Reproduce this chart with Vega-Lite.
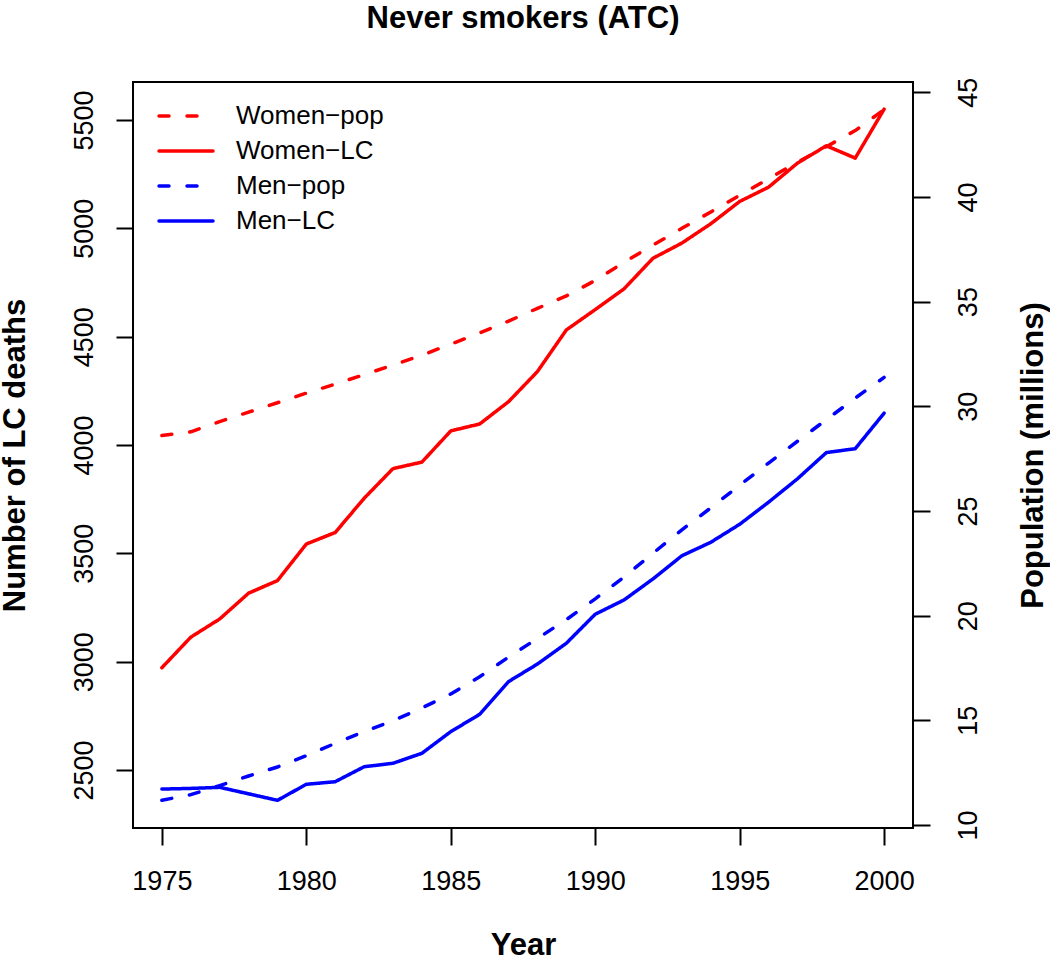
{
  "$schema": "https://vega.github.io/schema/vega-lite/v6.json",
  "width": 780,
  "height": 746,
  "autosize": {"type": "none"},
  "padding": {"left": 133, "top": 82, "right": 137, "bottom": 131},
  "background": "white",
  "config": {
    "font": "Liberation Sans",
    "view": {"stroke": "black", "strokeWidth": 2},
    "axis": {
      "grid": false, "domain": false,
      "tickColor": "black", "tickWidth": 2, "tickSize": 17,
      "labelFont": "Liberation Sans", "labelFontSize": 27, "labelColor": "black",
      "labelFlush": false, "labelOverlap": false,
      "titleFont": "Liberation Sans", "titleFontSize": 31, "titleFontWeight": "bold", "titleColor": "black"
    },
    "legend": {
      "orient": "none", "legendX": 24, "legendY": 17,
      "symbolType": "stroke", "symbolSize": 2916, "symbolStrokeWidth": 3.5,
      "labelFont": "Liberation Sans", "labelFontSize": 26, "labelColor": "black",
      "labelOffset": 21, "rowPadding": 0, "clipHeight": 34.2, "padding": 0
    }
  },
  "title": {
    "text": "Never smokers (ATC)",
    "font": "Liberation Sans", "fontSize": 31, "fontWeight": "bold", "color": "black",
    "anchor": "middle", "offset": 42
  },
  "data": {
    "values": [
      {"year": 1975, "series": "Women−LC", "measure": "deaths", "value": 2972},
      {"year": 1976, "series": "Women−LC", "measure": "deaths", "value": 3113},
      {"year": 1977, "series": "Women−LC", "measure": "deaths", "value": 3197},
      {"year": 1978, "series": "Women−LC", "measure": "deaths", "value": 3316},
      {"year": 1979, "series": "Women−LC", "measure": "deaths", "value": 3374},
      {"year": 1980, "series": "Women−LC", "measure": "deaths", "value": 3543},
      {"year": 1981, "series": "Women−LC", "measure": "deaths", "value": 3596},
      {"year": 1982, "series": "Women−LC", "measure": "deaths", "value": 3754},
      {"year": 1983, "series": "Women−LC", "measure": "deaths", "value": 3891},
      {"year": 1984, "series": "Women−LC", "measure": "deaths", "value": 3921},
      {"year": 1985, "series": "Women−LC", "measure": "deaths", "value": 4065},
      {"year": 1986, "series": "Women−LC", "measure": "deaths", "value": 4097},
      {"year": 1987, "series": "Women−LC", "measure": "deaths", "value": 4200},
      {"year": 1988, "series": "Women−LC", "measure": "deaths", "value": 4339},
      {"year": 1989, "series": "Women−LC", "measure": "deaths", "value": 4531},
      {"year": 1990, "series": "Women−LC", "measure": "deaths", "value": 4625},
      {"year": 1991, "series": "Women−LC", "measure": "deaths", "value": 4721},
      {"year": 1992, "series": "Women−LC", "measure": "deaths", "value": 4862},
      {"year": 1993, "series": "Women−LC", "measure": "deaths", "value": 4932},
      {"year": 1994, "series": "Women−LC", "measure": "deaths", "value": 5021},
      {"year": 1995, "series": "Women−LC", "measure": "deaths", "value": 5124},
      {"year": 1996, "series": "Women−LC", "measure": "deaths", "value": 5190},
      {"year": 1997, "series": "Women−LC", "measure": "deaths", "value": 5301},
      {"year": 1998, "series": "Women−LC", "measure": "deaths", "value": 5381},
      {"year": 1999, "series": "Women−LC", "measure": "deaths", "value": 5324},
      {"year": 2000, "series": "Women−LC", "measure": "deaths", "value": 5550},

      {"year": 1975, "series": "Men−LC", "measure": "deaths", "value": 2412},
      {"year": 1976, "series": "Men−LC", "measure": "deaths", "value": 2415},
      {"year": 1977, "series": "Men−LC", "measure": "deaths", "value": 2420},
      {"year": 1978, "series": "Men−LC", "measure": "deaths", "value": 2390},
      {"year": 1979, "series": "Men−LC", "measure": "deaths", "value": 2360},
      {"year": 1980, "series": "Men−LC", "measure": "deaths", "value": 2434},
      {"year": 1981, "series": "Men−LC", "measure": "deaths", "value": 2446},
      {"year": 1982, "series": "Men−LC", "measure": "deaths", "value": 2515},
      {"year": 1983, "series": "Men−LC", "measure": "deaths", "value": 2531},
      {"year": 1984, "series": "Men−LC", "measure": "deaths", "value": 2577},
      {"year": 1985, "series": "Men−LC", "measure": "deaths", "value": 2677},
      {"year": 1986, "series": "Men−LC", "measure": "deaths", "value": 2757},
      {"year": 1987, "series": "Men−LC", "measure": "deaths", "value": 2908},
      {"year": 1988, "series": "Men−LC", "measure": "deaths", "value": 2989},
      {"year": 1989, "series": "Men−LC", "measure": "deaths", "value": 3085},
      {"year": 1990, "series": "Men−LC", "measure": "deaths", "value": 3219},
      {"year": 1991, "series": "Men−LC", "measure": "deaths", "value": 3285},
      {"year": 1992, "series": "Men−LC", "measure": "deaths", "value": 3382},
      {"year": 1993, "series": "Men−LC", "measure": "deaths", "value": 3489},
      {"year": 1994, "series": "Men−LC", "measure": "deaths", "value": 3551},
      {"year": 1995, "series": "Men−LC", "measure": "deaths", "value": 3634},
      {"year": 1996, "series": "Men−LC", "measure": "deaths", "value": 3736},
      {"year": 1997, "series": "Men−LC", "measure": "deaths", "value": 3844},
      {"year": 1998, "series": "Men−LC", "measure": "deaths", "value": 3965},
      {"year": 1999, "series": "Men−LC", "measure": "deaths", "value": 3983},
      {"year": 2000, "series": "Men−LC", "measure": "deaths", "value": 4147},

      {"year": 1975, "series": "Women−pop", "measure": "pop", "value": 28.60},
      {"year": 1976, "series": "Women−pop", "measure": "pop", "value": 28.78},
      {"year": 1977, "series": "Women−pop", "measure": "pop", "value": 29.27},
      {"year": 1978, "series": "Women−pop", "measure": "pop", "value": 29.72},
      {"year": 1979, "series": "Women−pop", "measure": "pop", "value": 30.17},
      {"year": 1980, "series": "Women−pop", "measure": "pop", "value": 30.63},
      {"year": 1981, "series": "Women−pop", "measure": "pop", "value": 31.06},
      {"year": 1982, "series": "Women−pop", "measure": "pop", "value": 31.51},
      {"year": 1983, "series": "Women−pop", "measure": "pop", "value": 31.97},
      {"year": 1984, "series": "Women−pop", "measure": "pop", "value": 32.44},
      {"year": 1985, "series": "Women−pop", "measure": "pop", "value": 32.97},
      {"year": 1986, "series": "Women−pop", "measure": "pop", "value": 33.50},
      {"year": 1987, "series": "Women−pop", "measure": "pop", "value": 34.07},
      {"year": 1988, "series": "Women−pop", "measure": "pop", "value": 34.68},
      {"year": 1989, "series": "Women−pop", "measure": "pop", "value": 35.27},
      {"year": 1990, "series": "Women−pop", "measure": "pop", "value": 36.01},
      {"year": 1991, "series": "Women−pop", "measure": "pop", "value": 36.88},
      {"year": 1992, "series": "Women−pop", "measure": "pop", "value": 37.70},
      {"year": 1993, "series": "Women−pop", "measure": "pop", "value": 38.50},
      {"year": 1994, "series": "Women−pop", "measure": "pop", "value": 39.28},
      {"year": 1995, "series": "Women−pop", "measure": "pop", "value": 40.08},
      {"year": 1996, "series": "Women−pop", "measure": "pop", "value": 40.87},
      {"year": 1997, "series": "Women−pop", "measure": "pop", "value": 41.66},
      {"year": 1998, "series": "Women−pop", "measure": "pop", "value": 42.40},
      {"year": 1999, "series": "Women−pop", "measure": "pop", "value": 43.17},
      {"year": 2000, "series": "Women−pop", "measure": "pop", "value": 44.17},

      {"year": 1975, "series": "Men−pop", "measure": "pop", "value": 11.18},
      {"year": 1976, "series": "Men−pop", "measure": "pop", "value": 11.45},
      {"year": 1977, "series": "Men−pop", "measure": "pop", "value": 11.88},
      {"year": 1978, "series": "Men−pop", "measure": "pop", "value": 12.34},
      {"year": 1979, "series": "Men−pop", "measure": "pop", "value": 12.77},
      {"year": 1980, "series": "Men−pop", "measure": "pop", "value": 13.31},
      {"year": 1981, "series": "Men−pop", "measure": "pop", "value": 13.90},
      {"year": 1982, "series": "Men−pop", "measure": "pop", "value": 14.46},
      {"year": 1983, "series": "Men−pop", "measure": "pop", "value": 14.98},
      {"year": 1984, "series": "Men−pop", "measure": "pop", "value": 15.59},
      {"year": 1985, "series": "Men−pop", "measure": "pop", "value": 16.26},
      {"year": 1986, "series": "Men−pop", "measure": "pop", "value": 17.08},
      {"year": 1987, "series": "Men−pop", "measure": "pop", "value": 18.02},
      {"year": 1988, "series": "Men−pop", "measure": "pop", "value": 18.91},
      {"year": 1989, "series": "Men−pop", "measure": "pop", "value": 19.81},
      {"year": 1990, "series": "Men−pop", "measure": "pop", "value": 20.80},
      {"year": 1991, "series": "Men−pop", "measure": "pop", "value": 21.85},
      {"year": 1992, "series": "Men−pop", "measure": "pop", "value": 22.98},
      {"year": 1993, "series": "Men−pop", "measure": "pop", "value": 24.10},
      {"year": 1994, "series": "Men−pop", "measure": "pop", "value": 25.15},
      {"year": 1995, "series": "Men−pop", "measure": "pop", "value": 26.23},
      {"year": 1996, "series": "Men−pop", "measure": "pop", "value": 27.29},
      {"year": 1997, "series": "Men−pop", "measure": "pop", "value": 28.33},
      {"year": 1998, "series": "Men−pop", "measure": "pop", "value": 29.36},
      {"year": 1999, "series": "Men−pop", "measure": "pop", "value": 30.39},
      {"year": 2000, "series": "Men−pop", "measure": "pop", "value": 31.38}
    ]
  },
  "encoding": {
    "x": {
      "field": "year", "type": "quantitative",
      "scale": {"domain": [1974, 2001], "nice": false, "zero": false},
      "axis": {
        "values": [1975, 1980, 1985, 1990, 1995, 2000], "format": "d",
        "title": "Year", "labelPadding": 23,
        "titleBaseline": "alphabetic", "titleY": 126
      }
    },
    "color": {
      "field": "series", "type": "nominal",
      "scale": {
        "domain": ["Women−pop", "Women−LC", "Men−pop", "Men−LC"],
        "range": ["#FF0000", "#FF0000", "#0000FF", "#0000FF"]
      },
      "legend": {"title": null, "encode": {"symbols": {"update": {"strokeCap": {"value": "round"}}}}}
    },
    "strokeDash": {
      "field": "series", "type": "nominal",
      "scale": {
        "domain": ["Women−pop", "Women−LC", "Men−pop", "Men−LC"],
        "range": [[10, 18], [1, 0], [10, 18], [1, 0]]
      },
      "legend": {"title": null, "encode": {"symbols": {"update": {"strokeCap": {"value": "round"}}}}}
    }
  },
  "layer": [
    {
      "transform": [{"filter": "datum.measure == 'deaths'"}],
      "mark": {"type": "line", "strokeWidth": 3.5, "strokeCap": "round", "strokeJoin": "round"},
      "encoding": {
        "y": {
          "field": "value", "type": "quantitative",
          "scale": {"domain": [2232.3, 5675.4], "nice": false, "zero": false},
          "axis": {
            "orient": "left",
            "values": [2500, 3000, 3500, 4000, 4500, 5000, 5500],
            "format": "d",
            "title": "Number of LC deaths",
            "labelAngle": -90, "labelAlign": "center", "labelBaseline": "alphabetic",
            "labelPadding": 24,
            "titleAngle": -90, "titleBaseline": "alphabetic", "titleX": -109
          }
        }
      }
    },
    {
      "transform": [{"filter": "datum.measure == 'pop'"}],
      "mark": {"type": "line", "strokeWidth": 3.5, "strokeCap": "round", "strokeJoin": "round"},
      "encoding": {
        "y": {
          "field": "value", "type": "quantitative",
          "scale": {"domain": [9.857, 45.49], "nice": false, "zero": false},
          "axis": {
            "orient": "right",
            "values": [10, 15, 20, 25, 30, 35, 40, 45],
            "format": "d",
            "title": "Population (millions)",
            "labelAngle": -90, "labelAlign": "center", "labelBaseline": "top",
            "labelPadding": 25,
            "titleAngle": -90, "titleBaseline": "alphabetic", "titleX": 129
          }
        }
      }
    }
  ],
  "resolve": {"scale": {"y": "independent"}, "axis": {"y": "independent"}}
}
